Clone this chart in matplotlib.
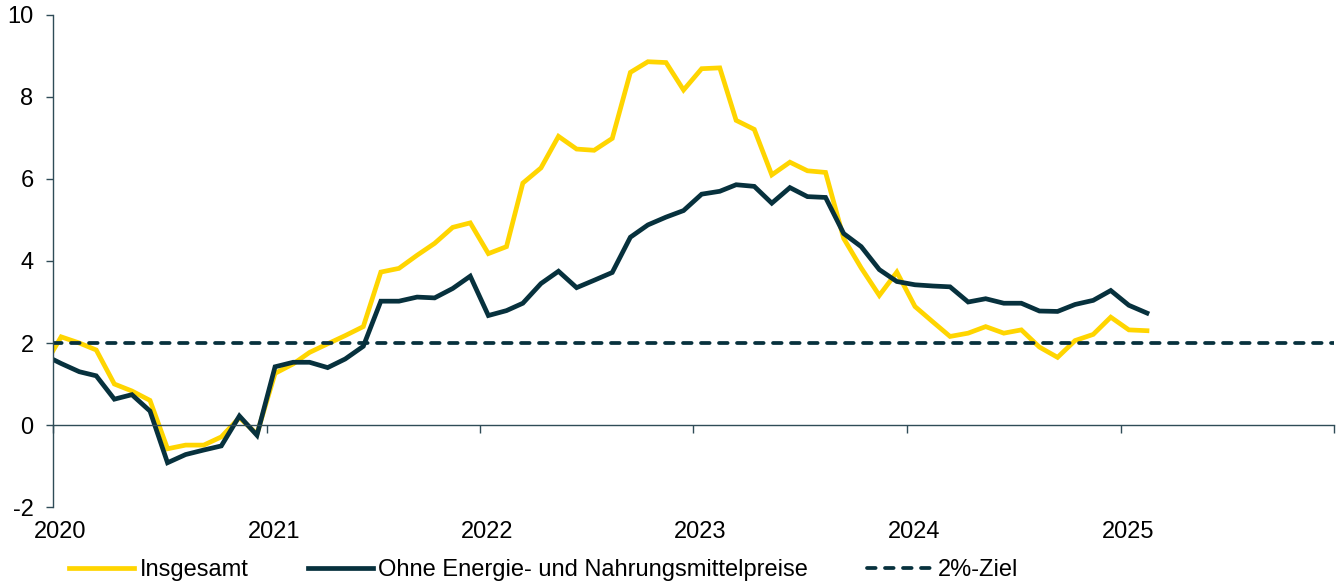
import matplotlib
matplotlib.use('Agg')
import matplotlib.pyplot as plt
import matplotlib.dates as mdates
import matplotlib.transforms as mtransforms
import numpy as np
import pandas as pd

plt.rcParams['font.family'] = ['Liberation Sans', 'DejaVu Sans']
plt.rcParams['axes.unicode_minus'] = False

# monthly values, Dec 2019 .. Feb 2025 (first point is clipped by the axis)
months = pd.date_range('2019-12-01', '2025-02-01', freq='MS') + pd.Timedelta(days=14)

insgesamt = [1.40,
             2.15, 2.00, 1.83, 1.00, 0.83, 0.60, -0.58, -0.49, -0.49, -0.29, 0.18, -0.22,
             1.26, 1.49, 1.77, 1.98, 2.18, 2.40, 3.73, 3.82, 4.14, 4.43, 4.82, 4.93,
             4.18, 4.35, 5.90, 6.27, 7.04, 6.73, 6.70, 6.99, 8.60, 8.86, 8.84, 8.17,
             8.69, 8.71, 7.43, 7.21, 6.10, 6.41, 6.20, 6.16, 4.55, 3.83, 3.16, 3.73,
             2.89, 2.51, 2.16, 2.24, 2.40, 2.24, 2.32, 1.90, 1.65, 2.06, 2.21, 2.63,
             2.32, 2.30]

kern = [1.72,
        1.50, 1.30, 1.20, 0.63, 0.74, 0.34, -0.92, -0.72, -0.61, -0.51, 0.22, -0.25,
        1.42, 1.53, 1.53, 1.40, 1.61, 1.92, 3.02, 3.02, 3.12, 3.10, 3.33, 3.63,
        2.67, 2.79, 2.97, 3.45, 3.75, 3.35, 3.53, 3.72, 4.58, 4.88, 5.07, 5.23,
        5.63, 5.70, 5.86, 5.82, 5.41, 5.79, 5.57, 5.55, 4.67, 4.35, 3.79, 3.50,
        3.42, 3.39, 3.37, 3.00, 3.08, 2.97, 2.97, 2.78, 2.77, 2.94, 3.04, 3.28,
        2.92, 2.73]

ziel = 2.0
year_labels = ['2020', '2021', '2022', '2023', '2024', '2025']
y_ticks = [-2, 0, 2, 4, 6, 8, 10]
labels = ['Insgesamt', 'Ohne Energie- und Nahrungsmittelpreise', '2%-Ziel']

yellow = '#FFD500'
dark = '#07313D'
axis_col = '#2F4C57'
fs = 17

fig = plt.figure(figsize=(13.38, 5.85), dpi=100)
ax = fig.add_axes([0.0396, 0.1333, 0.9574, 0.8411])

ax.plot(months, insgesamt, color=yellow, lw=3.4, solid_joinstyle='miter', label=labels[0])
ax.plot(months, kern, color=dark, lw=3.4, solid_joinstyle='miter', label=labels[1])
ax.axhline(ziel, color=dark, lw=2.7, dashes=(2.3, 2.5), dash_capstyle='round', label=labels[2])

ax.set_xlim(pd.Timestamp('2020-01-01'), pd.Timestamp('2026-01-01'))
ax.set_ylim(-2, 10)
ax.set_yticks(y_ticks)

for s in ['top', 'right']:
    ax.spines[s].set_visible(False)
ax.spines['bottom'].set_position(('data', 0))
ax.spines['bottom'].set_color(axis_col)
ax.spines['left'].set_color(axis_col)
ax.spines['bottom'].set_linewidth(1.0)
ax.spines['left'].set_linewidth(1.0)

ax.xaxis.set_major_locator(mdates.YearLocator())
ax.tick_params(axis='x', direction='out', length=6, width=1, color=axis_col, labelbottom=False)
ax.tick_params(axis='y', direction='out', length=5, width=1, color=axis_col, pad=9, labelsize=fs)

# year labels along the bottom edge
sec = ax.secondary_xaxis('bottom')
sec.set_xticks([pd.Timestamp(y + '-01-01') for y in year_labels])
sec.set_xticklabels(year_labels)
sec.spines['bottom'].set_visible(False)
sec.tick_params(length=0, pad=10, labelsize=fs)
off = mtransforms.ScaledTranslation(7 / 100, 0, fig.dpi_scale_trans)
for lab in sec.get_xticklabels():
    lab.set_transform(lab.get_transform() + off)

fig.legend(loc='lower left', bbox_to_anchor=(0.0515, 0.006), ncol=3, frameon=False,
           fontsize=fs, handlelength=2.75, handletextpad=0.25, columnspacing=2.5,
           borderpad=0, borderaxespad=0)

fig.savefig('out.png', dpi=100)
